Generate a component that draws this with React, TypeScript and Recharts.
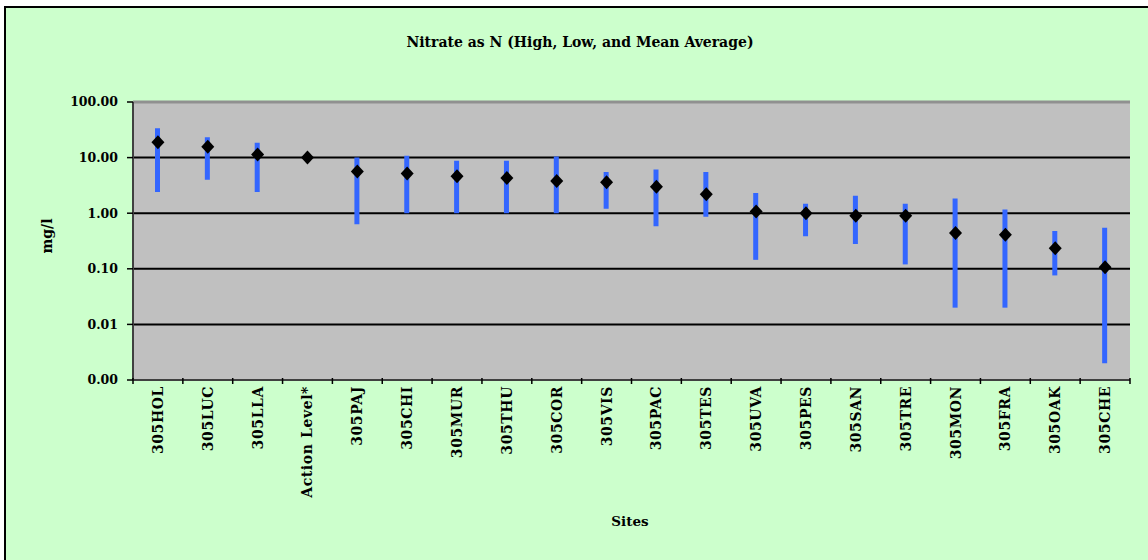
import React from "react"
import {
  ComposedChart,
  Bar,
  Line,
  XAxis,
  YAxis,
  CartesianGrid,
  ReferenceLine,
} from "recharts"

const sites = [
  "305HOL", "305LUC", "305LLA", "Action Level*", "305PAJ", "305CHI", "305MUR",
  "305THU", "305COR", "305VIS", "305PAC", "305TES", "305UVA", "305PES",
  "305SAN", "305TRE", "305MON", "305FRA", "305OAK", "305CHE",
]
const highs = [33.8, 23.3, 18.5, 10, 10, 10.8, 8.8, 8.8, 10.5, 5.5, 6.1, 5.5, 2.3, 1.48, 2.06, 1.48, 1.84, 1.17, 0.48, 0.55]
const lows = [2.4, 4.0, 2.4, 10, 0.63, 1.0, 1.0, 1.0, 1.0, 1.2, 0.58, 0.86, 0.145, 0.385, 0.28, 0.12, 0.02, 0.02, 0.076, 0.002]
const means = [18.9, 15.6, 11.4, 10, 5.6, 5.2, 4.6, 4.3, 3.8, 3.6, 3.0, 2.2, 1.07, 1.0, 0.9, 0.9, 0.44, 0.41, 0.235, 0.107]
const yTicks = [0.001, 0.01, 0.1, 1, 10, 100]

const data = sites.map((site, i) => ({
  site,
  range: lows[i] === highs[i] ? null : [lows[i], highs[i]],
  mean: means[i],
}))

const FONT = "'DejaVu Serif', serif"
const W = 1142
const H = 552
const PLOT_LEFT = 127
const PLOT_RIGHT = 1124
const BAND = (PLOT_RIGHT - PLOT_LEFT) / sites.length

// eslint-disable-next-line @typescript-eslint/no-explicit-any
function SiteTick({ x, y, payload, index }: any) {
  const left = x - BAND / 2
  return (
    <g>
      <line x1={left} y1={y - 8} x2={left} y2={y - 2} stroke="#000" strokeWidth={1.5} />
      {index === sites.length - 1 && (
        <line x1={left + BAND} y1={y - 8} x2={left + BAND} y2={y - 2} stroke="#000" strokeWidth={1.5} />
      )}
      <text
        x={x}
        y={y}
        transform={`rotate(-90, ${x}, ${y})`}
        textAnchor="end"
        dominantBaseline="central"
        fontFamily={FONT}
        fontWeight="bold"
        fontSize={14}
        letterSpacing={0.6}
        fill="#000"
      >
        {payload.value}
      </text>
    </g>
  )
}

// eslint-disable-next-line @typescript-eslint/no-explicit-any
function Diamond({ cx, cy, index }: any) {
  if (cx == null || cy == null) return <g key={index} />
  return (
    <polygon
      key={index}
      points={`${cx},${cy - 7} ${cx + 6.5},${cy} ${cx},${cy + 7} ${cx - 6.5},${cy}`}
      fill="#000"
    />
  )
}

export default function App() {
  return (
    <div
      style={{
        position: "absolute",
        left: 4,
        top: 6,
        width: 1144,
        height: 554,
        background: "#CCFFCC",
        borderLeft: "2px solid #000",
        borderTop: "2px solid #000",
        boxSizing: "border-box",
        fontFamily: FONT,
      }}
    >
      <div
        style={{
          position: "absolute",
          left: 0,
          width: 1148,
          top: 26,
          textAlign: "center",
          fontWeight: "bold",
          fontSize: 14,
        }}
      >
        Nitrate as N (High, Low, and Mean Average)
      </div>
      <div
        style={{
          position: "absolute",
          left: 41,
          top: 228,
          transform: "translate(-50%, -50%) rotate(-90deg)",
          fontWeight: "bold",
          fontSize: 14,
        }}
      >
        mg/l
      </div>
      <div
        style={{
          position: "absolute",
          left: 624,
          top: 513,
          transform: "translate(-50%, -50%)",
          fontWeight: "bold",
          fontSize: 13.5,
        }}
      >
        Sites
      </div>
      <div style={{ position: "absolute", left: 0, top: 0 }}>
        <ComposedChart
          width={W}
          height={H}
          data={data}
          margin={{ top: 94, right: W - PLOT_RIGHT, left: PLOT_LEFT - 80, bottom: 30 }}
          barCategoryGap={0}
        >
          <CartesianGrid
            vertical={false}
            stroke="#000"
            strokeWidth={2}
            fill="#C0C0C0"
            fillOpacity={1}
          />
          <XAxis
            dataKey="site"
            interval={0}
            height={150}
            axisLine={{ stroke: "#404040", strokeWidth: 2 }}
            tickLine={false}
            tick={<SiteTick />}
            tickMargin={0}
          />
          <YAxis
            scale="log"
            domain={[0.001, 100]}
            ticks={yTicks}
            allowDataOverflow
            width={80}
            tickFormatter={(v: number) => v.toFixed(2)}
            tick={{ fill: "#000", fontSize: 12.5, fontWeight: "bold", fontFamily: FONT }}
            tickSize={6}
            tickMargin={9}
            tickLine={{ stroke: "#000", strokeWidth: 1.5 }}
            axisLine={{ stroke: "#404040", strokeWidth: 2 }}
          />
          <YAxis
            yAxisId="frame"
            orientation="right"
            width={0}
            tick={false}
            tickLine={false}
            axisLine={{ stroke: "#909090", strokeWidth: 3 }}
          />
          <ReferenceLine y={100} stroke="#909090" strokeWidth={3} />
          <Bar dataKey="range" barSize={5} fill="#3366FF" isAnimationActive={false} />
          <Line
            dataKey="mean"
            stroke="none"
            dot={<Diamond />}
            activeDot={false}
            isAnimationActive={false}
          />
        </ComposedChart>
      </div>
    </div>
  )
}
